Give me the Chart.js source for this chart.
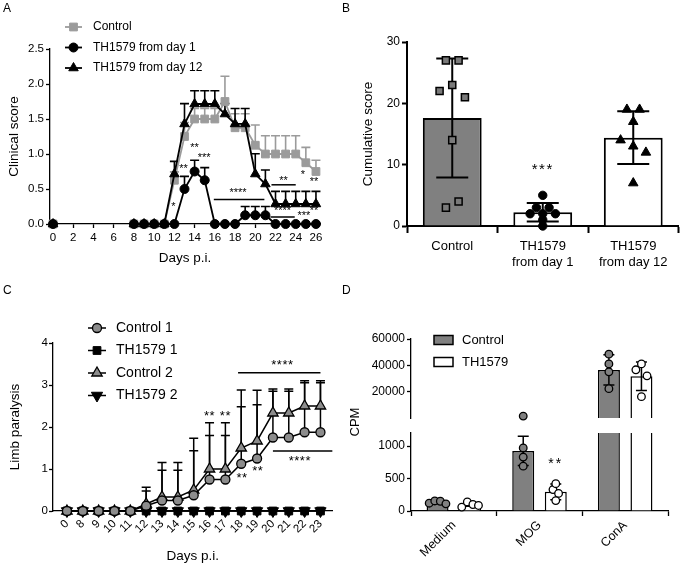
<!DOCTYPE html>
<html>
<head>
<meta charset="utf-8">
<title>TH1579 figure</title>
<script src="https://cdn.jsdelivr.net/npm/chart.js@4.4.1/dist/chart.umd.min.js"></script>
<style>
  body { margin: 0; background: #fff; }
  #fig { position: relative; width: 685px; height: 564px; overflow: hidden; font-family: "Liberation Sans", Arial, sans-serif; }
  #fig canvas { position: absolute; }
  .tag { position: absolute; font-size: 12px; line-height: 12px; }
</style>
</head>
<body>
<div id="fig">
  <canvas id="chartA" width="340" height="280" style="left:0;top:0"></canvas>
  <canvas id="chartB" width="345" height="280" style="left:340px;top:0"></canvas>
  <canvas id="chartC" width="340" height="284" style="left:0;top:280px"></canvas>
  <canvas id="chartDlow" width="345" height="284" style="left:340px;top:280px"></canvas>
  <canvas id="chartDhigh" width="345" height="284" style="left:340px;top:280px"></canvas>
  <div class="tag" style="left:3px;top:2px">A</div>
  <div class="tag" style="left:342px;top:2px">B</div>
  <div class="tag" style="left:3px;top:284px">C</div>
  <div class="tag" style="left:342px;top:284px">D</div>
</div>
<script>
const FONT = '"Liberation Sans", Arial, sans-serif';

// ---- A: clinical score
const daysA = [0, 8, 9, 10, 11, 12, 13, 14, 15, 16, 17, 18, 19, 20, 21, 22, 23, 24, 25, 26];
const controlA = [0, 0, 0, 0, 0, 0.625, 1.25, 1.5, 1.5, 1.5, 1.75, 1.375, 1.375, 1.125, 1, 1, 1, 1, 0.875, 0.75];
const controlErrA = [0, 0, 0, 0, 0, 0.12, 0.2, 0.15, 0.15, 0.15, 0.36, 0.2, 0.2, 0.29, 0.26, 0.26, 0.26, 0.26, 0.22, 0.16];
const day1A = [0, 0, 0, 0, 0, 0, 0.5, 0.75, 0.625, 0, 0, 0, 0.125, 0.125, 0.125, 0, 0, 0, 0, 0];
const day1ErrA = [0, 0, 0, 0, 0, 0, 0.18, 0.16, 0.18, 0, 0, 0, 0.125, 0.125, 0.125, 0, 0, 0, 0, 0];
const day12A = [0, 0, 0, 0, 0, 0.714, 1.429, 1.714, 1.714, 1.714, 1.571, 1.429, 1.429, 0.714, 0.571, 0.286, 0.286, 0.286, 0.286, 0.286];
const day12ErrA = [0, 0, 0, 0, 0, 0.18, 0.29, 0.19, 0.19, 0.19, 0.15, 0.22, 0.22, 0.29, 0.2, 0.18, 0.18, 0.18, 0.18, 0.18];
const xTicksA = [0, 2, 4, 6, 8, 10, 12, 14, 16, 18, 20, 22, 24, 26];
const yTicksA = [0, 0.5, 1, 1.5, 2, 2.5];
const starsA = [[11.9, 0.25, '*'], [12.9, 0.79, '**'], [14, 1.08, '**'], [14.95, 0.95, '***'], [18.3, 0.45, '****'],
  [22.8, 0.61, '**'], [24.7, 0.7, '*'], [25.8, 0.6, '**'], [22.7, 0.19, '****'], [24.8, 0.12, '***'], [25.8, 0.19, '**']];
const barsA = [[15.9, 20.9, 0.35], [21.6, 24, 0.56], [21.5, 23.9, 0.1]];

// ---- B: cumulative score
const groupsB = ['Control', ['TH1579', 'from day 1'], ['TH1579', 'from day 12']];
const meanB = [17.6, 2.25, 14.4];
const sdB = [9.7, 1.5, 4.3];
const controlPtsB = [27, 27, 22, 23, 21, 14, 3, 4];
const day1PtsB = [5, 3, 3, 2, 2, 2, 1, 0];
const day12PtsB = [19, 19, 17, 14, 13, 12, 7];
const yTicksB = [0, 10, 20, 30];

// ---- C: limb paralysis
const daysC = ['0', '8', '9', '10', '11', '12', '13', '14', '15', '16', '17', '18', '19', '20', '21', '22', '23'];
const control1C = [0, 0, 0, 0, 0, 0.125, 0.25, 0.25, 0.375, 0.75, 0.75, 1.125, 1.25, 1.75, 1.75, 1.875, 1.875];
const control1ErrC = [0, 0, 0, 0, 0, 0.35, 0.72, 0.72, 1.06, 1.05, 1.05, 1.36, 1.28, 1.1, 1.1, 1.18, 1.18];
const th1C = [0, 0, 0, 0, 0, 0, 0, 0, 0, 0, 0, 0, 0, 0, 0, 0, 0];
const control2C = [0, 0, 0, 0, 0, 0.167, 0.333, 0.333, 0.5, 1, 1, 1.5, 1.667, 2.333, 2.333, 2.5, 2.5];
const control2ErrC = [0, 0, 0, 0, 0, 0.4, 0.82, 0.82, 1.23, 1.1, 1.1, 1.38, 1.21, 0.57, 0.57, 0.6, 0.6];
const th2C = [0, 0, 0, 0, 0, 0, 0, 0, 0, 0, 0, 0, 0, 0, 0, 0, 0];
const yTicksC = [0, 1, 2, 3, 4];
const starsC = [[9, 2.24, '**'], [10, 2.24, '**'], [11.05, 0.78, '**'], [12.05, 0.94, '**'], [13.6, 3.47, '****'], [14.7, 1.17, '****']];
const barsC = [[10.8, 16.0, 3.29], [13.0, 16.75, 1.43]];

// ---- D: proliferation (CPM)
const stimD = ['Medium', 'MOG', 'ConA'];
const controlD = [140, 925, 36500];
const controlErrD = [25, 225, 11500];
const thD = [105, 295, 31700];
const thErrD = [30, 120, 10900];
const controlPtsD = [[120, 155, 150, 110], [1430, 970, 830, 690], [48500, 41100, 35100, 22300]];
const thPtsD = [[60, 140, 100, 85], [330, 420, 270, 160], [36600, 41100, 32000, 16200]];
const lowTicksD = [0, 500, 1000];
const highTicksD = [20000, 40000, 60000];
const lowMaxD = 1200;
const highMaxD = 60000;

Chart.defaults.font.family = FONT;
Chart.defaults.color = '#000';
Chart.defaults.animation = false;
Chart.defaults.responsive = false;
Chart.defaults.devicePixelRatio = 1;
Chart.defaults.plugins.legend.display = false;
Chart.defaults.plugins.tooltip.enabled = false;

// spread points that sit on about the same value side by side
function swarm(vals, tol, step) {
  const idx = vals.map((v, i) => i).sort((a, b) => vals[a] - vals[b] || a - b);
  const off = vals.map(() => 0);
  let group = [idx[0]];
  const flush = () => {
    group.sort((a, b) => a - b).forEach((k, n) => { off[k] = (n - (group.length - 1) / 2) * step; });
  };
  for (let n = 1; n < idx.length; n++) {
    if (vals[idx[n]] - vals[idx[n - 1]] < tol) group.push(idx[n]);
    else { flush(); group = [idx[n]]; }
  }
  flush();
  return off;
}

function drawErrors(chart, list) {
  const ctx = chart.ctx;
  list.forEach(e => {
    const meta = chart.getDatasetMeta(e.dataset);
    const ds = chart.data.datasets[e.dataset];
    const ys = chart.scales[meta.yAxisID];
    ctx.save();
    ctx.strokeStyle = e.color || '#000';
    ctx.lineWidth = e.width || 1.5;
    meta.data.forEach((el, j) => {
      const raw = ds.data[j];
      const err = e.err[j];
      if (raw == null || !err) return;
      const v = typeof raw === 'object' ? raw.y : raw;
      if (v == null || v > ys.max) return;
      const x = el.x;
      const yTop = ys.getPixelForValue(v + err);
      const yBot = ys.getPixelForValue(e.both ? v - err : v);
      ctx.beginPath();
      ctx.moveTo(x, yBot);
      ctx.lineTo(x, yTop);
      ctx.moveTo(x - e.cap / 2, yTop);
      ctx.lineTo(x + e.cap / 2, yTop);
      if (e.both) {
        ctx.moveTo(x - e.cap / 2, yBot);
        ctx.lineTo(x + e.cap / 2, yBot);
      }
      ctx.stroke();
    });
    ctx.restore();
  });
}

function drawKey(chart, k) {
  const ctx = chart.ctx;
  const items = chart.data.datasets.filter(d => d.label);
  items.forEach((d, i) => {
    const y = k.y + i * k.rowH;
    ctx.save();
    if (k.box) {
      ctx.fillStyle = d.backgroundColor;
      ctx.strokeStyle = d.borderColor;
      ctx.lineWidth = 1.5;
      ctx.fillRect(k.x, y - k.boxH / 2, k.lineLen, k.boxH);
      ctx.strokeRect(k.x, y - k.boxH / 2, k.lineLen, k.boxH);
    } else {
      ctx.strokeStyle = d.borderColor;
      ctx.lineWidth = d.borderWidth;
      ctx.beginPath();
      ctx.moveTo(k.x, y);
      ctx.lineTo(k.x + k.lineLen, y);
      ctx.stroke();
      ctx.fillStyle = d.pointBackgroundColor;
      ctx.strokeStyle = d.pointBorderColor;
      ctx.lineWidth = d.pointBorderWidth;
      Chart.helpers.drawPoint(ctx, {
        pointStyle: d.pointStyle, rotation: d.pointRotation || 0,
        radius: d.pointRadius, borderWidth: d.pointBorderWidth
      }, k.x + k.lineLen / 2, y);
    }
    ctx.fillStyle = '#000';
    ctx.font = k.size + 'px ' + FONT;
    ctx.textAlign = 'left';
    ctx.textBaseline = 'middle';
    ctx.fillText(d.label, k.x + k.lineLen + k.gap, y);
    ctx.restore();
  });
}

function extras(cfg) {
  return {
    id: 'extras',
    beforeDatasetsDraw(chart) {
      drawErrors(chart, (cfg.errorBars || []).filter(e => !e.after));
    },
    afterDatasetDraw(chart, args) {
      drawErrors(chart, (cfg.errorBars || []).filter(e => e.after && e.dataset === args.index));
    },
    afterDraw(chart) {
      const ctx = chart.ctx;
      const xs = chart.scales.x;
      const ys = chart.scales.y;
      ctx.save();
      ctx.strokeStyle = '#000';
      ctx.lineWidth = 1.5;
      (cfg.bars || []).forEach(([x0, x1, y]) => {
        ctx.beginPath();
        ctx.moveTo(xs.getPixelForValue(x0), ys.getPixelForValue(y));
        ctx.lineTo(xs.getPixelForValue(x1), ys.getPixelForValue(y));
        ctx.stroke();
      });
      if (cfg.stars) {
        ctx.fillStyle = '#000';
        ctx.font = cfg.stars.size + 'px ' + FONT;
        ctx.textAlign = 'center';
        ctx.textBaseline = 'middle';
        if ('letterSpacing' in ctx) ctx.letterSpacing = (cfg.stars.spacing || 0) + 'px';
        cfg.stars.items.forEach(([x, y, t]) => ctx.fillText(t, xs.getPixelForValue(x), ys.getPixelForValue(y)));
        if ('letterSpacing' in ctx) ctx.letterSpacing = '0px';
      }
      (cfg.notes || []).forEach(n => {
        ctx.save();
        ctx.translate(n.x, n.y);
        ctx.rotate((n.rot || 0) * Math.PI / 180);
        ctx.fillStyle = '#000';
        ctx.font = n.size + 'px ' + FONT;
        ctx.textAlign = 'center';
        ctx.textBaseline = 'middle';
        ctx.fillText(n.text, 0, 0);
        ctx.restore();
      });
      ctx.restore();
      if (cfg.key) drawKey(chart, cfg.key);
    }
  };
}

// axis options
function ax(o) {
  const a = {
    type: o.type || 'linear',
    display: o.display !== false,
    offset: !!o.offset,
    grid: { drawOnChartArea: false, drawTicks: true, tickLength: o.tickLen || 4, tickWidth: o.lw || 1.3, tickColor: '#000' },
    border: { color: '#000', width: o.lw || 1.3 },
    ticks: { color: '#000', font: { size: o.font || 11 }, padding: o.pad == null ? 2 : o.pad, autoSkip: false,
      maxRotation: o.rot || 0, minRotation: o.rot || 0 },
    title: { display: !!o.title, text: o.title || '', font: { size: o.titleSize || 13.5 }, padding: 0, color: '#000' }
  };
  if (o.min != null) a.min = o.min;
  if (o.max != null) a.max = o.max;
  if (o.cb) a.ticks.callback = o.cb;
  if (o.ticks) a.afterBuildTicks = s => { s.ticks = o.ticks.map(v => ({ value: v })); };
  if (o.width != null) a.afterFit = s => { s.width = o.width; };
  if (o.height != null) a.afterFit = s => { s.height = o.height; };
  return a;
}

// ---------- Panel A
const GRAY_A = '#9b9b9b';
const gap = c => (c.p1.parsed.x - c.p0.parsed.x > 1 ? 'rgba(0,0,0,0)' : undefined);
const ptsA = vals => daysA.map((d, i) => ({ x: d, y: vals[i] }));

new Chart(document.getElementById('chartA'), {
  type: 'line',
  data: {
    datasets: [
      { label: 'Control', data: ptsA(controlA), borderColor: GRAY_A, backgroundColor: GRAY_A, borderWidth: 1.8,
        pointStyle: 'rect', pointRadius: 5.5, pointBackgroundColor: GRAY_A, pointBorderColor: GRAY_A, pointBorderWidth: 1,
        segment: { borderColor: gap }, clip: false, order: 2 },
      { label: 'TH1579 from day 1', data: ptsA(day1A), borderColor: '#000', backgroundColor: '#000', borderWidth: 1.8,
        pointStyle: 'circle', pointRadius: 4.5, pointBackgroundColor: '#000', pointBorderColor: '#000', pointBorderWidth: 1,
        segment: { borderColor: gap }, clip: false, order: 0 },
      { label: 'TH1579 from day 12', data: ptsA(day12A), borderColor: '#000', backgroundColor: '#000', borderWidth: 1.8,
        pointStyle: 'triangle', pointRadius: 5.5, pointBackgroundColor: '#000', pointBorderColor: '#000', pointBorderWidth: 1,
        segment: { borderColor: gap }, clip: false, order: 1 }
    ]
  },
  options: {
    layout: { padding: { left: 6, top: 49, right: 20, bottom: 14 } },
    scales: {
      x: ax({ min: -0.3, max: 26.4, ticks: xTicksA, height: 42, title: 'Days p.i.', pad: 3, font: 11.5 }),
      y: ax({ min: 0, max: 2.5, ticks: yTicksA, width: 44, title: 'Clinical score', cb: v => v.toFixed(1), font: 11.5 })
    }
  },
  plugins: [extras({
    errorBars: [
      { dataset: 0, err: controlErrA, color: GRAY_A, cap: 9, width: 1.6 },
      { dataset: 1, err: day1ErrA, cap: 9, width: 1.6 },
      { dataset: 2, err: day12ErrA, cap: 9, width: 1.6 }
    ],
    bars: barsA,
    stars: { size: 11, spacing: 0, items: starsA },
    key: { x: 65, y: 27, rowH: 20.5, lineLen: 17, gap: 11, size: 12 }
  })]
});

// ---------- Panel B (groups sit on a linear axis at 0, 1, 2)
const offCtrlB = swarm(controlPtsB, 1.2, 0.14);
const offD1B = swarm(day1PtsB, 0.9, 0.14);
const offD12B = swarm(day12PtsB, 1.2, 0.14);

new Chart(document.getElementById('chartB'), {
  type: 'bar',
  data: {
    datasets: [
      { type: 'scatter', data: controlPtsB.map((v, i) => ({ x: 0 + offCtrlB[i], y: v })),
        pointStyle: 'rect', pointRadius: 5, pointBackgroundColor: '#7a7a7a', pointBorderColor: '#000', pointBorderWidth: 1.5, clip: false, order: 0 },
      { type: 'scatter', data: day1PtsB.map((v, i) => ({ x: 1 + offD1B[i], y: v })),
        pointStyle: 'circle', pointRadius: 4.2, pointBackgroundColor: '#000', pointBorderColor: '#000', pointBorderWidth: 1, clip: false, order: 0 },
      { type: 'scatter', data: day12PtsB.map((v, i) => ({ x: 2 + offD12B[i], y: v })),
        pointStyle: 'triangle', pointRadius: 5.5, pointBackgroundColor: '#000', pointBorderColor: '#000', pointBorderWidth: 1, clip: false, order: 0 },
      { data: meanB.map((v, i) => ({ x: i, y: v })), backgroundColor: ['#808080', '#ffffff', '#ffffff'], borderColor: '#000', borderWidth: 2,
        grouped: false, barPercentage: 0.65, categoryPercentage: 1, order: 5 }
    ]
  },
  options: {
    layout: { padding: { left: 20, top: 42, right: 2, bottom: 4 } },
    scales: {
      x: ax({ min: -0.5, max: 2.5, ticks: groupsB.map((g, i) => i), cb: v => groupsB[v], height: 50, tickLen: 7, pad: 6, font: 13, lw: 2 }),
      y: ax({ min: 0, max: 30, ticks: yTicksB, width: 47, title: 'Cumulative score', font: 12, lw: 2, tickLen: 5 })
    }
  },
  plugins: [extras({
    errorBars: [{ dataset: 3, err: sdB, both: true, after: true, cap: 32, width: 2 }],
    stars: { size: 15, spacing: 1.5, items: [[1, 9.2, '***']] }
  })]
});

// ---------- Panel C
const ptsC = vals => vals.map((v, i) => ({ x: i, y: v }));
const GRAY_C = '#8c8c8c';

new Chart(document.getElementById('chartC'), {
  type: 'line',
  data: {
    datasets: [
      { label: 'Control 1', data: ptsC(control1C), borderColor: '#000', borderWidth: 1.5,
        pointStyle: 'circle', pointRadius: 4.5, pointBackgroundColor: GRAY_C, pointBorderColor: '#000', pointBorderWidth: 1.3, clip: false },
      { label: 'TH1579 1', data: ptsC(th1C), borderColor: '#000', borderWidth: 1.5,
        pointStyle: 'rect', pointRadius: 5.5, pointBackgroundColor: '#000', pointBorderColor: '#000', pointBorderWidth: 1, clip: false },
      { label: 'Control 2', data: ptsC(control2C), borderColor: '#000', borderWidth: 1.5,
        pointStyle: 'triangle', pointRadius: 6, pointBackgroundColor: GRAY_C, pointBorderColor: '#000', pointBorderWidth: 1.3, clip: false },
      { label: 'TH1579 2', data: ptsC(th2C), borderColor: '#000', borderWidth: 1.5,
        pointStyle: 'triangle', pointRotation: 180, pointRadius: 6.5, pointBackgroundColor: '#000', pointBorderColor: '#000', pointBorderWidth: 1, clip: false }
    ]
  },
  options: {
    layout: { padding: { left: 7, top: 63, right: 7, bottom: 0 } },
    scales: {
      x: ax({ min: -0.88, max: 16.76, ticks: daysC.map((d, i) => i), cb: v => daysC[v], rot: 45, height: 53, title: 'Days p.i.', pad: 2, font: 11.5 }),
      y: ax({ min: 0, max: 4, ticks: yTicksC, width: 46, title: 'Limb paralysis', pad: 1, font: 11.5 })
    }
  },
  plugins: [extras({
    errorBars: [
      { dataset: 0, err: control1ErrC, cap: 9, width: 1.5 },
      { dataset: 2, err: control2ErrC, cap: 9, width: 1.5 }
    ],
    bars: barsC,
    stars: { size: 13, spacing: 0.5, items: starsC },
    key: { x: 88, y: 48, rowH: 22.5, lineLen: 18, gap: 10, size: 14 }
  })]
});

// ---------- Panel D (broken axis: two charts stacked on one spot)
const barShiftD = 0.19;
function pointsD(groups, side, keep, tol) {
  const out = [];
  groups.forEach((vals, i) => {
    const kept = vals.filter(keep);
    if (!kept.length) return;
    const off = swarm(kept, tol, 0.065);
    kept.forEach((v, j) => out.push({ x: i + side * barShiftD + off[j], y: v }));
  });
  return out;
}
// values above the lower segment are drawn on the upper segment's scale
const isLow = v => v <= lowMaxD;
const isHigh = v => !isLow(v);

function setsD(low) {
  const keep = low ? isLow : isHigh;
  const tol = low ? 90 : 5700;
  const barPts = (vals, side) => vals.map((v, i) => ({ x: i + side * barShiftD, y: low || v > lowMaxD ? v : null }));
  return [
    { type: 'scatter', data: pointsD(controlPtsD, -1, keep, tol), pointStyle: 'circle', pointRadius: 3.8,
      pointBackgroundColor: '#808080', pointBorderColor: '#000', pointBorderWidth: 1.3, clip: false, order: 0 },
    { type: 'scatter', data: pointsD(thPtsD, 1, keep, tol), pointStyle: 'circle', pointRadius: 3.8,
      pointBackgroundColor: '#ffffff', pointBorderColor: '#000', pointBorderWidth: 1.3, clip: false, order: 0 },
    { label: 'Control', data: barPts(controlD, -1), backgroundColor: '#808080', borderColor: '#000', borderWidth: 1.5,
      grouped: false, barPercentage: 0.675, categoryPercentage: 1, clip: 0, order: 5 },
    { label: 'TH1579', data: barPts(thD, 1), backgroundColor: '#ffffff', borderColor: '#000', borderWidth: 1.5,
      grouped: false, barPercentage: 0.675, categoryPercentage: 1, clip: 0, order: 6 }
  ];
}

new Chart(document.getElementById('chartDlow'), {
  type: 'bar',
  data: { datasets: setsD(true) },
  options: {
    layout: { padding: { left: 20, top: 153, right: 17, bottom: 2 } },
    scales: {
      x: ax({ min: -0.5, max: 2.5, ticks: stimD.map((s, i) => i), cb: v => stimD[v], rot: 45, height: 51, tickLen: 5, pad: 2, font: 12.5 }),
      y: ax({ min: 0, max: lowMaxD, ticks: lowTicksD, width: 51, font: 12, cb: v => String(v) })
    }
  },
  plugins: [extras({
    errorBars: [
      { dataset: 2, err: controlErrD, both: true, after: true, cap: 11, width: 1.5 },
      { dataset: 3, err: thErrD, both: true, after: true, cap: 11, width: 1.5 }
    ],
    stars: { size: 14, spacing: 2, items: [[1 + barShiftD, 720, '**']] },
    notes: [{ x: 15, y: 142, text: 'CPM', size: 13, rot: -90 }]
  })]
});

new Chart(document.getElementById('chartDhigh'), {
  type: 'bar',
  data: { datasets: setsD(false) },
  options: {
    layout: { padding: { left: 20, top: 59, right: 17, bottom: 146 } },
    scales: {
      x: ax({ min: -0.5, max: 2.5, display: false }),
      y: ax({ min: 0, max: highMaxD, ticks: highTicksD, width: 51, font: 12, cb: v => String(v) })
    }
  },
  plugins: [extras({
    errorBars: [
      { dataset: 2, err: controlErrD, both: true, after: true, cap: 11, width: 1.5 },
      { dataset: 3, err: thErrD, both: true, after: true, cap: 11, width: 1.5 }
    ],
    key: { x: 94, y: 60, rowH: 22, lineLen: 19, boxH: 9, gap: 9, size: 13, box: true }
  })]
});
</script>
</body>
</html>
